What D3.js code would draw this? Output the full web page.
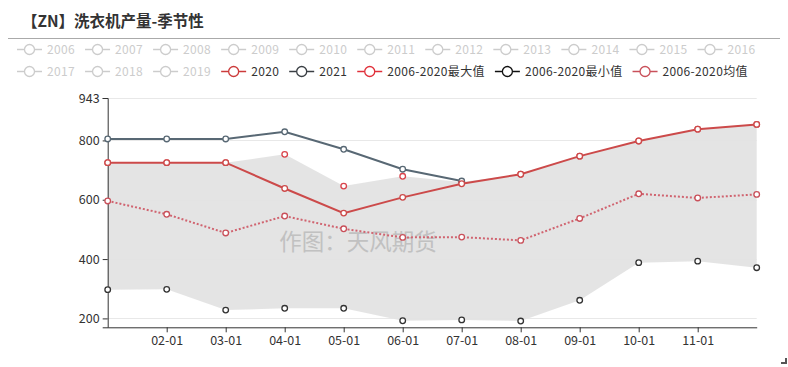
<!DOCTYPE html>
<html><head><meta charset="utf-8">
<script src="https://cdn.jsdelivr.net/npm/d3@7/dist/d3.min.js"></script>
<style>body{margin:0;background:#fff;}svg{display:block;font-family:"Noto Sans CJK SC","Noto Sans",sans-serif;}</style>
</head><body><svg id="c" width="788" height="367"></svg>
<script>
const months = ["01-01","02-01","03-01","04-01","05-01","06-01","07-01","08-01","09-01","10-01","11-01","12-01"];
const tickLabels = ["02-01","03-01","04-01","05-01","06-01","07-01","08-01","09-01","10-01","11-01"];
const yTicks = [200,400,600,800,943];
const legendRow1 = ["2006","2007","2008","2009","2010","2011","2012","2013","2014","2015","2016"];
const legendRow2 = ["2017","2018","2019","2020","2021","2006-2020最大值","2006-2020最小值","2006-2020均值"];
const s2020 = [725,725,725,638,555,608,654,686,747,798,838,854];
const s2021 = [805,805,805,829,770,703,663,null,null,null,null,null];
const sMax  = [725,725,725,753,646,679,660,686,747,798,838,854];
const sMin  = [297,298,228,234,234,192,195,191,261,388,393,371];
const sMean = [596,551,488,545,502,473,474,463,537,620,606,618];

const svg = d3.select("#c");
const x = d3.scalePoint().domain(months).range([107.7,756.7]);
const y = d3.scaleLinear().domain([170,943]).range([327.3,98]);

// title
svg.append("text").attr("x",22).attr("y",27).attr("font-size",15.5).attr("font-weight","bold").attr("fill","#333").text("【ZN】洗衣机产量-季节性");
svg.append("line").attr("x1",8).attr("x2",780).attr("y1",38.5).attr("y2",38.5).attr("stroke","#aaa").attr("stroke-width",1);

// legend
const colors = {"2020":"#cc3b3b","2021":"#3a3f44","2006-2020最大值":"#e0303a","2006-2020最小值":"#111","2006-2020均值":"#c9505a"};
function legendRow(items, yy){
  let cx = 17;
  items.forEach(name=>{
    const col = colors[name] || "#ccc";
    const tcol = colors[name] ? "#333" : "#ccc";
    const g = svg.append("g");
    g.append("line").attr("x1",cx).attr("x2",cx+25).attr("y1",yy).attr("y2",yy).attr("stroke",col).attr("stroke-width",1.5);
    g.append("circle").attr("cx",cx+12.5).attr("cy",yy).attr("r",5).attr("fill","#fff").attr("stroke",col).attr("stroke-width",1.3);
    const t = g.append("text").attr("x",cx+30).attr("y",yy+4.5).attr("font-size",12).attr("letter-spacing","0.35px").attr("fill",tcol).text(name);
    const w = t.node().getComputedTextLength();
    cx += 25+5+w+10;
  });
}
legendRow(legendRow1,49.5);
legendRow(legendRow2,71.5);

// grid
svg.append("g").selectAll("line").data(yTicks).join("line")
  .attr("x1",107.7).attr("x2",756.7).attr("y1",d=>Math.round(y(d))+0.5).attr("y2",d=>Math.round(y(d))+0.5)
  .attr("stroke","#e8e8e8");

// area between min and max
const area = d3.area().x((d,i)=>x(months[i])).y0((d,i)=>y(sMin[i])).y1((d,i)=>y(sMax[i]));
svg.append("path").datum(sMax).attr("d",area).attr("fill","#e3e3e3").attr("opacity",0.95);

// watermark
svg.append("text").attr("x",358).attr("y",250).attr("text-anchor","middle").attr("font-size",22.5).attr("fill","#bbb").attr("opacity",0.85).text("作图：天风期货");

// axes
const yAxis = d3.axisLeft(y).tickValues(yTicks).tickSize(5).tickPadding(3).tickFormat(d3.format("d"));
const ya = svg.append("g").attr("transform","translate(107.7,0)").call(yAxis);
ya.select(".domain").attr("stroke","#333");
ya.selectAll(".tick line").attr("stroke","#333");
ya.selectAll("text").attr("font-size",12.5).attr("fill","#333").attr("font-family",'"Noto Sans CJK SC","Noto Sans",sans-serif');

const xAxis = d3.axisBottom(x).tickValues(tickLabels).tickSize(5).tickPadding(4).tickSizeOuter(0);
const xa = svg.append("g").attr("transform","translate(0,327.3)").call(xAxis);
xa.select(".domain").attr("stroke","#333");
xa.selectAll(".tick line").attr("stroke","#333");
xa.selectAll("text").attr("font-size",12.5).attr("fill","#333").attr("font-family",'"Noto Sans CJK SC","Noto Sans",sans-serif');

// lines
const lineGen = d3.line().defined(d=>d!=null).x((d,i)=>x(months[i])).y(d=>y(d));
svg.append("path").datum(sMean).attr("d",lineGen).attr("fill","none").attr("stroke","#d06470").attr("stroke-width",2).attr("stroke-dasharray","2,2");
svg.append("path").datum(s2021).attr("d",lineGen).attr("fill","none").attr("stroke","#586874").attr("stroke-width",2);
svg.append("path").datum(s2020).attr("d",lineGen).attr("fill","none").attr("stroke","#cc4a4a").attr("stroke-width",2);

function dots(data,col){
  svg.append("g").selectAll("circle").data(data.map((v,i)=>({v,i})).filter(d=>d.v!=null)).join("circle")
    .attr("cx",d=>x(months[d.i])).attr("cy",d=>y(d.v)).attr("r",2.8)
    .attr("fill","#fff").attr("stroke",col).attr("stroke-width",1.3);
}
dots(sMin,"#333");
dots(sMax,"#d9434b");
dots(sMean,"#c9505a");
dots(s2021,"#586874");
dots(s2020,"#cc4a4a");

// corner mark
svg.append("path").attr("d","M781,363 L786,363 L786,358").attr("fill","none").attr("stroke","#555").attr("stroke-width",2);
</script></body></html>
